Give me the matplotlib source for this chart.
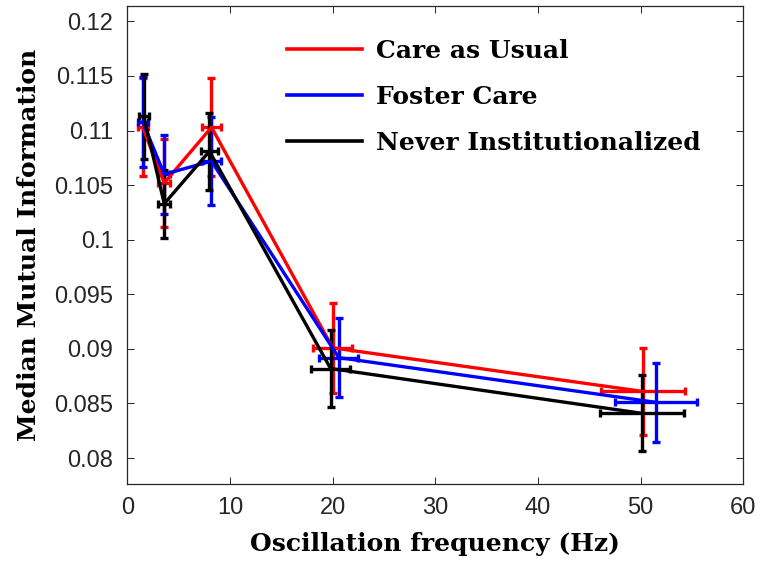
import numpy as np
import matplotlib
matplotlib.use("Agg")
import matplotlib.pyplot as plt
from matplotlib.lines import Line2D

# data
groups = ["Care as Usual", "Foster Care", "Never Institutionalized"]
colors = ["#ff0000", "#0000ff", "#000000"]

freq_cau = [1.5, 3.6, 8.2, 20.0, 50.2]
mi_cau = [0.1103, 0.1052, 0.1103, 0.0901, 0.0861]
yerr_cau = [0.0045, 0.0040, 0.0045, 0.0041, 0.0040]
xerr_cau = [0.5, 0.6, 0.9, 1.9, 4.1]

freq_fc = [1.5, 3.6, 8.2, 20.6, 51.5]
mi_fc = [0.1108, 0.1060, 0.1072, 0.0892, 0.0851]
yerr_fc = [0.0041, 0.0036, 0.0040, 0.0036, 0.0036]
xerr_fc = [0.5, 0.6, 0.9, 1.9, 4.0]

freq_ni = [1.6, 3.6, 8.0, 19.8, 50.1]
mi_ni = [0.1113, 0.1033, 0.1081, 0.0882, 0.0841]
yerr_ni = [0.0039, 0.0031, 0.0035, 0.0035, 0.0035]
xerr_ni = [0.5, 0.6, 0.8, 1.9, 4.1]

x_ticks = [0, 10, 20, 30, 40, 50, 60]
y_ticks = [0.08, 0.085, 0.09, 0.095, 0.1, 0.105, 0.11, 0.115, 0.12]
y_ticklabels = ["0.08", "0.085", "0.09", "0.095", "0.1", "0.105", "0.11", "0.115", "0.12"]

series = [
    (freq_cau, mi_cau, xerr_cau, yerr_cau),
    (freq_fc, mi_fc, xerr_fc, yerr_fc),
    (freq_ni, mi_ni, xerr_ni, yerr_ni),
]

fig = plt.figure(figsize=(7.71, 5.63), dpi=100)
ax = fig.add_axes([0.1651, 0.1403, 0.799, 0.849])

for (fx, fy, ex, ey), c in zip(series, colors):
    ax.errorbar(fx, fy, xerr=ex, yerr=ey, color=c, lw=2.4, elinewidth=2.4,
                capsize=3, capthick=2.4)

ax.set_xlim(0, 60)
ax.set_ylim(0.07762, 0.12141)
ax.set_xticks(x_ticks)
ax.set_yticks(y_ticks)
ax.set_yticklabels(y_ticklabels)
ax.tick_params(direction="in", top=True, right=True, length=5, width=0.7,
               labelsize=17, colors="#262626")
ax.tick_params(axis="y", pad=10)
ax.tick_params(axis="x", pad=9)
for lab in ax.get_xticklabels() + ax.get_yticklabels():
    lab.set_fontfamily("Liberation Sans")
    lab.set_color("#262626")
for s in ax.spines.values():
    s.set_linewidth(0.9)
    s.set_color("#262626")

lab_font = dict(family="DejaVu Serif", weight="bold", size=18)
ax.set_xlabel("Oscillation frequency (Hz)", fontdict=lab_font, labelpad=10)
ax.set_ylabel("Median Mutual Information", fontdict=lab_font, labelpad=10)

handles = [Line2D([], [], color=c, lw=2.6) for c in colors]
leg = ax.legend(handles, groups, loc="upper left", bbox_to_anchor=(0.372, 0.931),
                bbox_transform=fig.transFigure, frameon=False, borderpad=0,
                borderaxespad=0, handlelength=3.0, handletextpad=0.55,
                labelspacing=0.88,
                prop=dict(family="DejaVu Serif", weight="bold", size=18))

fig.savefig("out.png", dpi=100)
